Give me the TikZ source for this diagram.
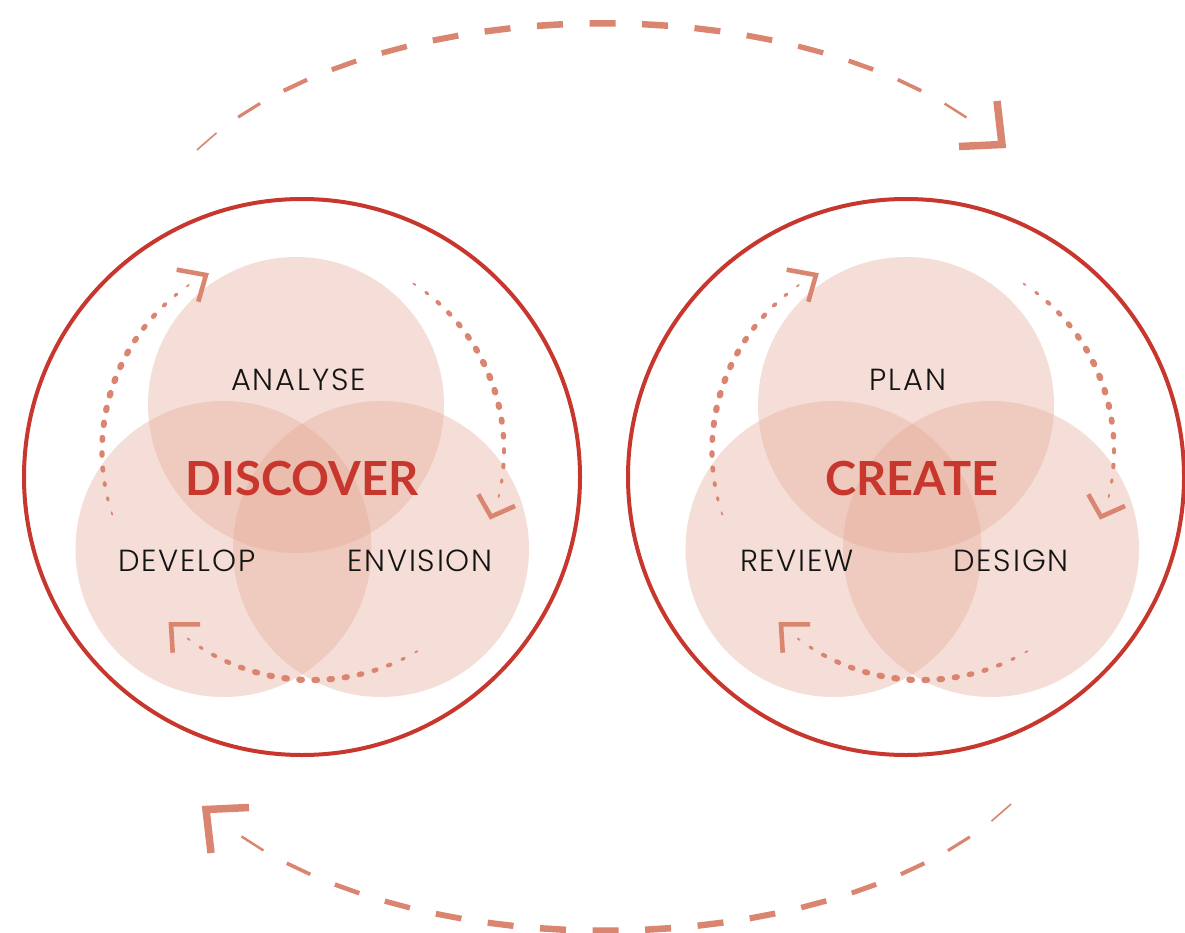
\documentclass[tikz,border=0pt]{standalone}
\usepackage{fontspec}
\IfFontExistsTF{Poppins Light}{\newfontfamily\labfont{Poppins Light}[LetterSpace=6]}{\newfontfamily\labfont{Poppins}[LetterSpace=6]}
\newfontfamily\titfont{Lato}
\usetikzlibrary{calc,decorations.markings}
\definecolor{ringred}{RGB}{200,55,45}
\definecolor{salmon}{RGB}{218,133,112}
\definecolor{vennfill}{RGB}{230,170,150}
\definecolor{labblack}{RGB}{20,20,20}
\tikzset{
  ring/.style={draw=ringred, line width=4pt},
  venn/.style={fill=vennfill, fill opacity=0.38, draw=none},
  chev/.style={draw=salmon, line width=4.6pt, line join=miter, line cap=butt},
  bigchev/.style={draw=salmon, line width=7.5pt, line join=miter, line cap=butt},
  lab/.style={font=\labfont\fontsize{30.5}{30.5}\selectfont, text=labblack, anchor=base, inner sep=0pt},
  tit/.style={font=\titfont\bfseries\fontsize{47}{47}\selectfont, text=ringred, anchor=base, inner sep=0pt},
  taperdash/.style={postaction={decorate}, decoration={markings,
    mark=between positions 0 and 1 step 0.0666 with {
      \pgfmathsetmacro\tq{(\pgfkeysvalueof{/pgf/decoration/mark info/sequence number}-0.5)/16.5}
      \pgfmathsetmacro\wd{6.6*pow(sin(180*\tq),0.6)}
      \draw[salmon, line width=\wd pt, line cap=butt] (-13,0) -- (13,0);
    }}}
}
% dotted tapering arc: cx, cy, r, a0, a1, N, N-1
\newcommand\dotarc[7]{%
  \foreach \i in {0,...,#7} {
    \pgfmathsetmacro\tq{(\i+0.5)/#6}
    \pgfmathsetmacro\ang{#4+(#5-#4)*\tq}
    \pgfmathsetmacro\wd{6.3*pow(sin(180*\tq),0.55)}
    \draw[salmon, line width=\wd pt, line cap=round] ($(#1,#2)+(\ang:#3)$) arc[start angle=\ang, delta angle=0.7, radius=#3];
  }}
\newcommand\bigarc{%
  \begin{scope}[rotate around={0.3:(600,265.4)}]
  \path[taperdash] ($(600,265.4)+(-148.6:460 and 242)$) arc[start angle=-148.6, end angle=-39.1, x radius=460, y radius=242];
  \end{scope}
  \draw[bigchev] (997,101) -- (1002,144.5) -- (959,146.5);}
\begin{document}
\begin{tikzpicture}[x=1pt,y=-1pt]
\useasboundingbox (0,0) rectangle (1185,933);
\fill[white] (0,0) rectangle (1185,933);

% big rings
\draw[ring] (302,477) circle[radius=278];
\draw[ring] (906,477) circle[radius=278];

% big dashed loop
\bigarc
\begin{scope}[rotate around={180:(604,477)}]
  \bigarc
\end{scope}

% inner groups
\foreach \dx in {0,610} {
  \begin{scope}[xshift=\dx pt]
    \fill[venn] (296,405) circle[radius=148];
    \fill[venn] (223.5,549) circle[radius=148];
    \fill[venn] (381,549) circle[radius=148];
    \dotarc{304}{451}{202}{159.5}{236.7}{18}{17}
    \dotarc{304}{451}{200}{-59}{14.8}{17}{16}
    \dotarc{312}{473}{207}{57.3}{128.3}{17}{16}
    \draw[chev] (176.7,269.7) -- (206,275) -- (198.3,301.7);
    \draw[chev] (478.3,494.3) -- (491,516.7) -- (515,506);
    \draw[chev] (200,624.3) -- (171,624.3) -- (172.7,652.7);
  \end{scope}
}

% labels
\node[lab] (analyse) at (298.5,390.7) {ANALYSE};
\node[lab] (develop) at (187,571.7) {DEVELOP};
\node[lab] (envision) at (420,571.7) {ENVISION};
\node[tit] (discover) at (302,495) {DISCOVER};
\node[lab] (plan) at (908,390.7) {PLAN};
\node[lab] (review) at (797,571.7) {REVIEW};
\node[lab] (design) at (1011,571.7) {DESIGN};
\node[tit] (create) at (912,495) {CREATE};
\end{tikzpicture}
\end{document}
